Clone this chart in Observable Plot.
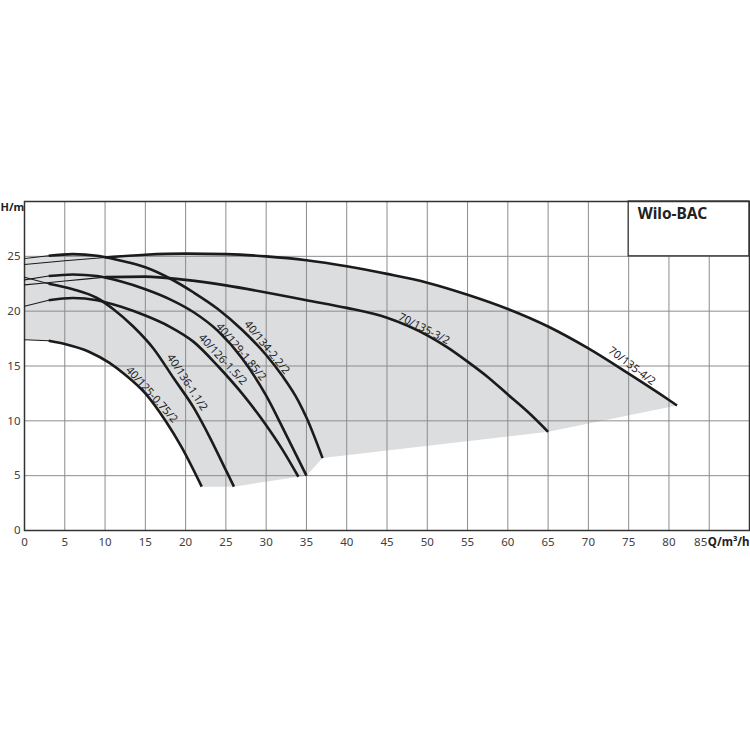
<!DOCTYPE html>
<html>
<head>
<meta charset="utf-8">
<script src="https://cdn.jsdelivr.net/npm/d3@7"></script>
<script src="https://cdn.jsdelivr.net/npm/@observablehq/plot@0.6"></script>
<style>
  html, body { margin: 0; padding: 0; background: #fff; }
</style>
</head>
<body>
<div id="chart"></div>
<script>
// ---------- data (Q in m³/h, H in m) ----------
const curveNames = ["40/125-0.75/2", "40/136-1.1/2", "40/126-1.5/2", "40/129-1.85/2", "40/134-2.2/2", "70/135-3/2", "70/135-4/2"];

const q075 = [0, 3, 5, 8, 10.5, 12.5, 15, 17.5, 19.5, 22];
const h075 = [17.4, 17.3, 17.0, 16.3, 15.3, 14.2, 12.5, 10.0, 7.6, 4.0];

const q11 = [0, 3, 6, 9, 11, 13.5, 16, 18.5, 21, 23, 25, 26];
const h11 = [23.1, 22.5, 22.0, 21.2, 20.2, 18.6, 16.6, 13.9, 11.2, 8.5, 5.5, 4.0];

const q15 = [0, 3, 6, 9, 12, 15, 18, 21, 24, 27, 30, 32, 34];
const h15 = [20.45, 21.0, 21.2, 21.0, 20.4, 19.6, 18.6, 17.2, 15.0, 12.5, 9.6, 7.4, 4.9];

const q185 = [0, 3, 6, 9, 12, 15, 18, 21, 24, 27, 30, 32.5, 35];
const h185 = [22.85, 23.2, 23.35, 23.2, 22.7, 22.0, 21.1, 19.9, 18.2, 15.7, 12.3, 8.7, 5.0];

const q22 = [0, 3, 6, 9, 12, 15, 18, 21, 24, 27, 30, 32, 34, 35, 37];
const h22 = [24.8, 25.05, 25.2, 25.05, 24.6, 24.0, 23.0, 21.7, 20.2, 18.3, 16.0, 14.1, 11.8, 10.3, 6.6];

const q3 = [0, 5, 10, 15, 20, 25, 30, 35, 40, 45, 50, 52.5, 55, 57.5, 60, 62.5, 65];
const h3 = [22.4, 22.75, 23.1, 23.15, 22.85, 22.35, 21.7, 21.0, 20.3, 19.4, 17.8, 16.7, 15.4, 14.0, 12.4, 10.8, 9.0];

const q4 = [0, 5, 10, 15, 20, 25, 30, 35, 40, 45, 50, 55, 60, 65, 70, 75, 80, 81];
const h4 = [24.25, 24.6, 24.9, 25.15, 25.25, 25.2, 25.0, 24.65, 24.1, 23.4, 22.6, 21.5, 20.2, 18.6, 16.6, 14.3, 11.9, 11.4];

// flow from which each curve is drawn heavy (thin below)
const thickFromQ = [3, 3, 3, 3, 3, 10, 10];

// lower edge of the shaded operating range (right to left)
const edgeQ = [65, 37, 35, 34, 26, 22];
const edgeH = [9.0, 6.6, 5.0, 4.9, 4.0, 4.0];

// curve label anchors
const labelQ = [15.8, 20.2, 24.6, 26.9, 30.1, 49.6, 75.4];
const labelH = [12.4, 13.5, 15.6, 16.3, 16.7, 18.4, 15.0];
const labelRotate = [48, 57, 47, 50, 51, 27, 37];

// ticks
const xTicks = [0, 5, 10, 15, 20, 25, 30, 35, 40, 45, 50, 55, 60, 65, 70, 75, 80, 85];
const yTicks = [0, 5, 10, 15, 20, 25];
const xGrid = [5, 10, 15, 20, 25, 30, 35, 40, 45, 50, 55, 60, 65, 70, 75, 80, 85];
const yGrid = [5, 10, 15, 20, 25];

const title = "Wilo-BAC";
const xMax = 90, yMax = 30;
const boxQ = [75, 90], boxH = [25, 30];

// ---------- build tables ----------
const qs = [q075, q11, q15, q185, q22, q3, q4];
const hs = [h075, h11, h15, h185, h22, h3, h4];
const rows = [];
curveNames.forEach((name, i) => {
  qs[i].forEach((q, j) => rows.push({name, i, q, h: hs[i][j]}));
});
const thinRows = rows.filter(d => d.q <= thickFromQ[d.i]);
const thickRows = rows.filter(d => d.q >= thickFromQ[d.i]);

// shaded region polygon: upper envelope, lower edge, smallest curve
const area = [];
q22.forEach((q, j) => { if (q < 10) area.push({q, h: h22[j]}); });
q4.forEach((q, j) => { if (q >= 10) area.push({q, h: h4[j]}); });
edgeQ.forEach((q, j) => area.push({q, h: edgeH[j]}));
for (let j = q075.length - 1; j >= 0; j--) area.push({q: q075[j], h: h075[j]});

const labels = curveNames.map((name, i) => ({name, q: labelQ[i], h: labelH[i], r: labelRotate[i]}));
const lastTick = xTicks[xTicks.length - 1];
const innerTicks = xTicks.slice(0, -1);

const font = "'Noto Sans', 'DejaVu Sans', sans-serif";
const ink = "#1b1b1b";
const gridColor = "#8c8c8c";
const tickInk = "#404040";

const chart = Plot.plot({
  width: 750,
  height: 750,
  marginLeft: 24,
  marginRight: 1,
  marginTop: 201,
  marginBottom: 220,
  x: {domain: [0, xMax], axis: null},
  y: {domain: [0, yMax], axis: null},
  style: {fontFamily: font, background: "#fff", overflow: "visible"},
  marks: [
    Plot.line(area, {x: "q", y: "h", fill: "#dcdddf", stroke: "none", curve: "linear-closed"}),
    Plot.ruleX(xGrid, {x: d => d, y1: 0, y2: yMax, stroke: gridColor, strokeWidth: 1}),
    Plot.ruleY(yGrid, {y: d => d, x1: 0, x2: xMax, stroke: gridColor, strokeWidth: 1}),
    Plot.rect([0], {x1: boxQ[0], x2: boxQ[1], y1: boxH[0], y2: boxH[1], fill: "#fff", stroke: "#333", strokeWidth: 1.3}),
    Plot.frame({stroke: "#333", strokeWidth: 1.5}),
    Plot.line(thinRows, {x: "q", y: "h", z: "name", stroke: ink, strokeWidth: 1.1, curve: "monotone-x"}),
    Plot.line(thickRows, {x: "q", y: "h", z: "name", stroke: ink, strokeWidth: 2.6, curve: "monotone-x", strokeLinecap: "butt"}),
    Plot.text(labels, {x: "q", y: "h", text: "name", rotate: "r", fontSize: 11, fill: "#222", textAnchor: "middle"}),
    Plot.text(innerTicks, {x: d => d, y: 0, text: d => String(d), dy: 12, fontSize: 11.5, fill: tickInk, textAnchor: "middle"}),
    Plot.text([lastTick], {x: d => d, y: 0, text: d => String(d), dx: -2, dy: 12, fontSize: 11.5, fill: tickInk, textAnchor: "end"}),
    Plot.text(yTicks, {x: 0, y: d => d, text: d => String(d), dx: -4, fontSize: 11.5, fill: tickInk, textAnchor: "end"}),
    Plot.text([title], {x: boxQ[0], y: yMax, text: d => d, dx: 9, dy: 13, fontSize: 15.5, fontWeight: "bold", fill: "#222", textAnchor: "start"}),
    Plot.text(["H/m"], {x: 0, y: yMax, text: d => d, dx: -24, dy: 6, fontSize: 11, fontWeight: "bold", fill: "#222", textAnchor: "start", ariaLabel: "unit-h"}),
    Plot.text(["Q/m³/h"], {x: xMax, y: 0, text: d => d, dx: 0, dy: 12, fontSize: 11.5, fontWeight: "bold", fill: "#222", textAnchor: "end", ariaLabel: "unit-q"})
  ]
});

document.getElementById("chart").appendChild(chart);

// italic quantity symbols
function italicFirst(sel, first, rest) {
  return d3.select(chart).selectAll(sel).each(function () {
    const t = d3.select(this);
    t.text(null);
    t.append("tspan").attr("font-style", "italic").text(first);
    t.append("tspan").text(rest);
  });
}
italicFirst('g[aria-label="unit-h"] text', "H", "/m");
italicFirst('g[aria-label="unit-q"] text', "Q", "/m³/h")
  .attr("textLength", 39)
  .attr("lengthAdjust", "spacingAndGlyphs");
</script>
</body>
</html>
